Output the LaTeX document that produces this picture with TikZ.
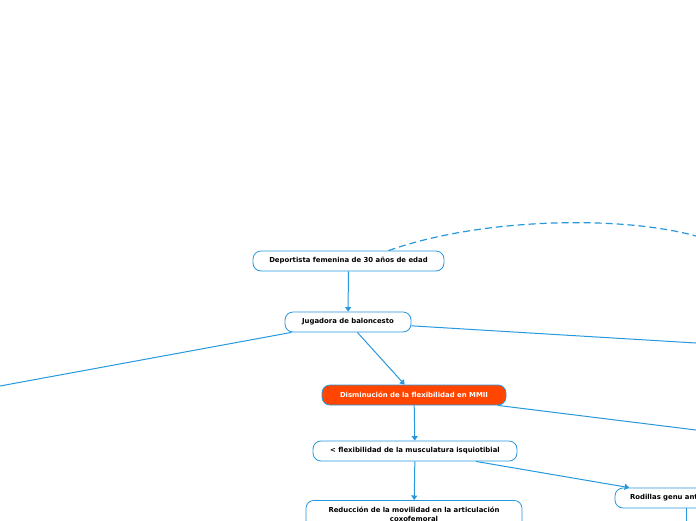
\documentclass[tikz,border=0pt]{standalone}
\usepackage{fontspec}
\setmainfont{DejaVu Sans}
\usepackage{tikz}
\usetikzlibrary{arrows.meta,calc}
\definecolor{mapblue}{RGB}{38,152,222}
\definecolor{maporange}{RGB}{255,69,0}

\begin{document}
\begin{tikzpicture}[x=1pt, y=-1pt,
	every node/.style={font=\fontsize{6.9}{9.5}\selectfont\bfseries, text=black},
	topic/.style={draw=mapblue, line width=0.8pt, rounded corners=8pt, minimum height=20pt, inner sep=2pt, fill=white},
	link/.style={draw=mapblue, line width=1pt},
	tip/.style={-{Triangle[width=6pt,length=4.5pt]}}]
	\useasboundingbox (0,0) rectangle (696,520);
	\clip (0,0) rectangle (696,520);
	\node[topic, minimum width=191pt] (dep) at (348.5,261) {Deportista femenina de 30 años de edad};
	\node[topic, minimum width=126pt] (jug) at (348,322) {Jugadora de baloncesto};
	\node[topic, minimum width=184pt, fill=maporange, text=white] (dism) at (414,395) {Disminución de la flexibilidad en MMII};
	\node[topic, minimum width=204pt] (flex) at (415,451) {< flexibilidad de la musculatura isquiotibial};
	\node[topic, minimum width=216pt, text width=200pt, align=center, anchor=north, inner ysep=6.5pt] (redu) at (414,500) {Reducción de la movilidad en la articulación\\coxofemoral};
	\node[topic, text width=120pt, inner xsep=15pt] (rod) at (690,498) {Rodillas genu antecurvatum};
	\coordinate (offL) at (0,386);
	\coordinate (offR) at (696,343);
	\coordinate (offD) at (696,430);
	\coordinate (offC) at (696,236);
	\coordinate (offB) at (686,540);
	\draw[link, line width=1.2pt, dash pattern=on 7pt off 4pt] ($(dep.north)+(40,0)$) .. controls (480,218) and (620,215) .. (offC);
	\draw[link, tip] (dep) -- (jug);
	\draw[link] (jug) -- (offL);
	\draw[link] (jug) -- (offR);
	\draw[link, tip] (jug) -- (dism);
	\draw[link] (dism) -- (offD);
	\draw[link, tip] (dism) -- (flex);
	\draw[link, tip] (flex) -- (rod);
	\draw[link, tip] (flex) -- (redu);
	\draw[link] (rod.south -| offB) -- (offB);
\end{tikzpicture}
\end{document}
